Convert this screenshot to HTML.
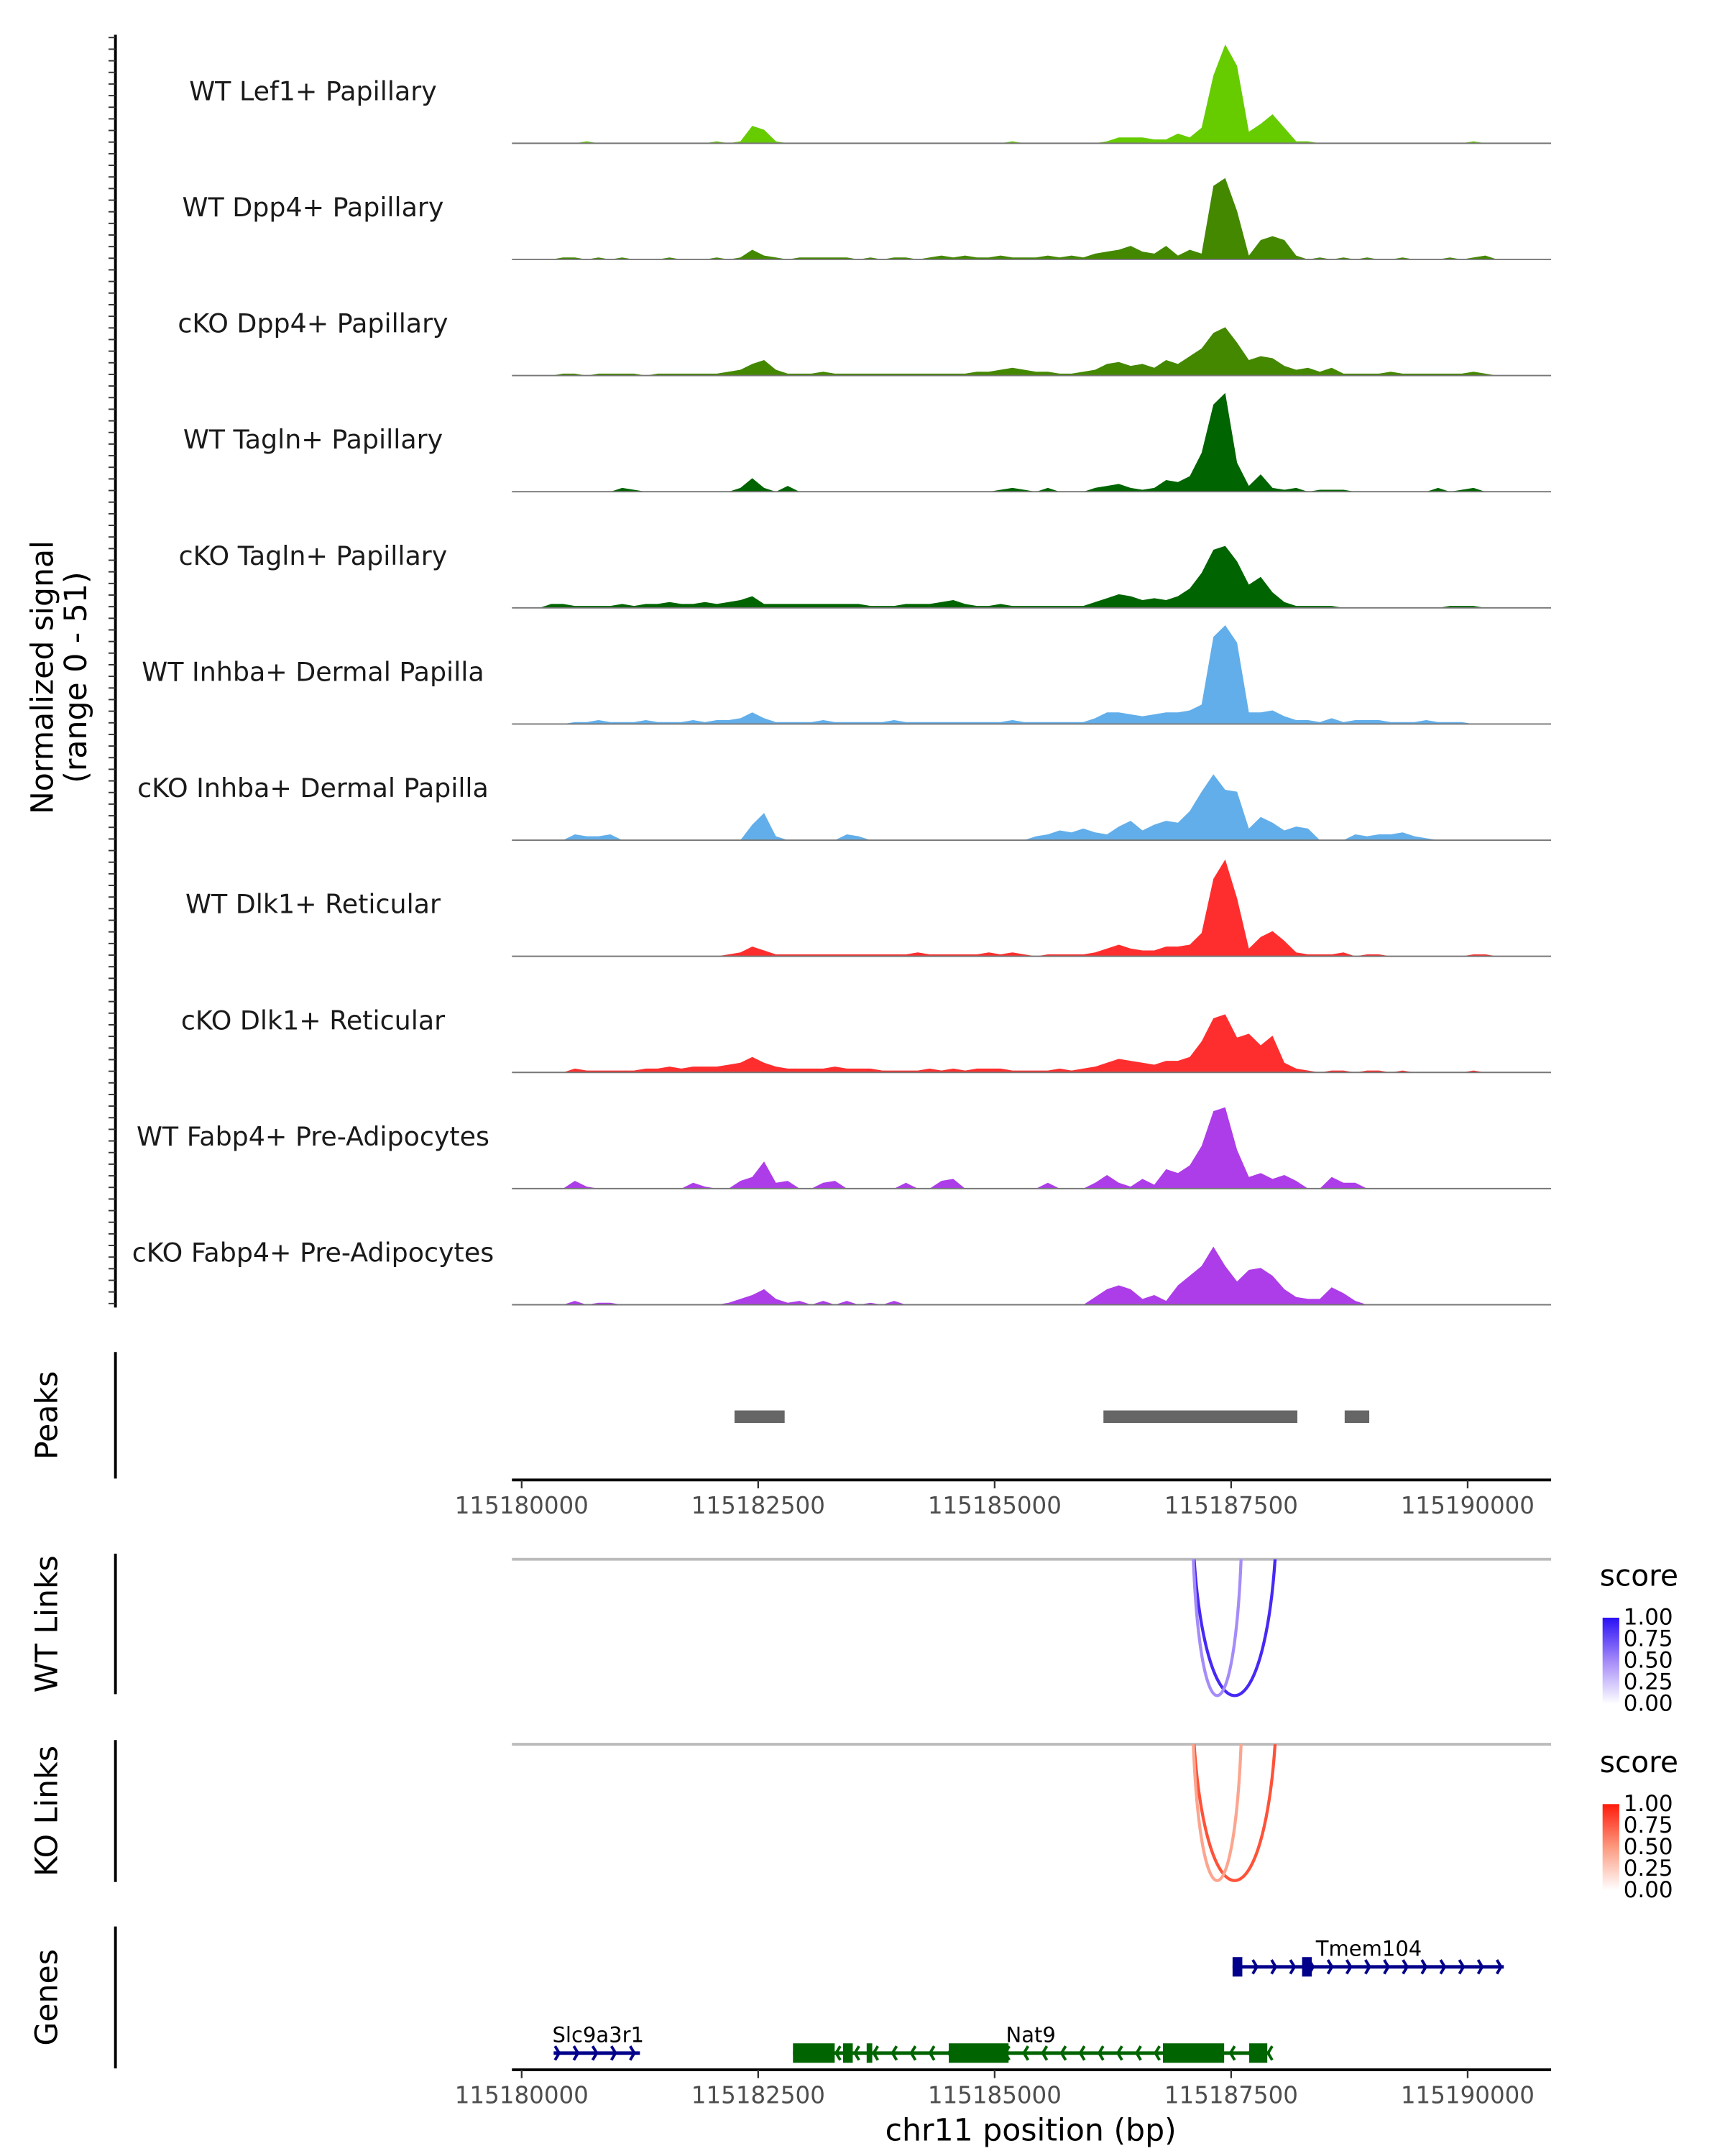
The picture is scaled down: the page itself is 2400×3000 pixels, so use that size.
<!DOCTYPE html>
<html><head><meta charset="utf-8"><style>
html,body{margin:0;padding:0;background:#fff}
svg{display:block}
text{font-family:"DejaVu Sans","Liberation Sans",sans-serif}
</style></head><body>
<svg id="chart" xmlns="http://www.w3.org/2000/svg" width="2400" height="3000" viewBox="0 0 1240 1550">
<defs>
<linearGradient id="gBlue" x1="0" y1="1" x2="0" y2="0"><stop offset="0" stop-color="#ffffff"/><stop offset="0.5" stop-color="#a48af8"/><stop offset="1" stop-color="#2a10f5"/></linearGradient>
<linearGradient id="gRed" x1="0" y1="1" x2="0" y2="0"><stop offset="0" stop-color="#ffffff"/><stop offset="0.5" stop-color="#fc9a80"/><stop offset="1" stop-color="#ff1a0a"/></linearGradient>
<clipPath id="clipWT"><rect x="368" y="1121" width="747" height="110"/></clipPath>
<clipPath id="clipKO"><rect x="368" y="1254" width="747" height="110"/></clipPath>
</defs>
<g id="tracks"></g>
<g id="static"></g>
</svg>
<script>
// ---- data ----
const startBp = 115180000;
const binSize = 125;
const trackNames = ["WT Lef1+ Papillary","WT Dpp4+ Papillary","cKO Dpp4+ Papillary","WT Tagln+ Papillary","cKO Tagln+ Papillary","WT Inhba+ Dermal Papilla","cKO Inhba+ Dermal Papilla","WT Dlk1+ Reticular","cKO Dlk1+ Reticular","WT Fabp4+ Pre-Adipocytes","cKO Fabp4+ Pre-Adipocytes"];
const trackColors = ["#66cc00","#448800","#448800","#006400","#006400","#62aeea","#62aeea","#ff2e2e","#ff2e2e","#ad3de8","#ad3de8"];
const sigLef1WT = [0,0,0,0,0,1,0,0,0,0, 0,0,0,0,0,0,1,0,1,9, 7,1,0,0,0,0,0,0,0,0, 0,0,0,0,0,0,0,0,0,0, 0,1,0,0,0,0,0,0,0,1, 3,3,3,2,2,5,3,8,35,51, 40,6,10,15,8,1,1,0,0,0, 0,0,0,0,0,0,0,0,0,0, 1,0,0,0,0];
const sigDpp4WT = [0,0,0,1,1,0,1,0,1,0, 0,0,1,0,0,0,1,0,1,5, 2,1,0,1,1,1,1,1,0,1, 0,1,1,0,1,2,1,2,1,1, 2,1,1,1,2,1,2,1,3,4, 5,7,4,3,7,2,5,3,38,42, 25,2,10,12,10,2,0,1,0,1, 0,1,0,0,1,0,0,0,1,0, 1,2,0,0,0];
const sigDpp4KO = [0,0,0,1,1,0,1,1,1,1, 0,1,1,1,1,1,1,2,3,6, 8,3,1,1,1,2,1,1,1,1, 1,1,1,1,1,1,1,1,2,2, 3,4,3,2,2,1,1,2,3,6, 7,5,6,4,8,6,10,14,22,25, 17,8,10,9,5,3,4,2,4,1, 1,1,1,2,1,1,1,1,1,1, 2,1,0,0,0];
const sigTaglnWT = [0,0,0,0,0,0,0,0,2,1, 0,0,0,0,0,0,0,0,2,7, 2,0,3,0,0,0,0,0,0,0, 0,0,0,0,0,0,0,0,0,0, 1,2,1,0,2,0,0,0,2,3, 4,2,1,2,6,5,8,20,45,51, 15,3,9,2,1,2,0,1,1,1, 0,0,0,0,0,0,0,2,0,1, 2,0,0,0,0];
const sigTaglnKO = [0,0,2,2,1,1,1,1,2,1, 2,2,3,2,2,3,2,3,4,6, 2,2,2,2,2,2,2,2,2,1, 1,1,2,2,2,3,4,2,1,1, 2,1,1,1,1,1,1,1,3,5, 7,6,4,5,4,6,10,18,30,32, 24,12,16,8,3,1,1,1,1,0, 0,0,0,0,0,0,0,0,1,1, 1,0,0,0,0];
const sigInhbaWT = [0,0,0,0,1,1,2,1,1,1, 2,1,1,1,2,1,2,2,3,6, 3,1,1,1,1,2,1,1,1,1, 1,2,1,1,1,1,1,1,1,1, 1,2,1,1,1,1,1,1,3,6, 6,5,4,5,6,6,7,10,45,51, 42,6,6,7,4,2,2,1,3,1, 2,2,2,1,1,1,2,1,1,1, 0,0,0,0,0];
const sigInhbaKO = [0,0,0,0,3,2,2,3,0,0, 0,0,0,0,0,0,0,0,0,8, 14,2,0,0,0,0,0,3,2,0, 0,0,0,0,0,0,0,0,0,0, 0,0,0,2,3,5,4,6,4,3, 7,10,5,8,10,9,15,25,34,26, 25,6,12,9,5,7,6,0,0,0, 3,2,3,3,4,2,1,0,0,0, 0,0,0,0,0];
const sigDlk1WT = [0,0,0,0,0,0,0,0,0,0, 0,0,0,0,0,0,0,1,2,5, 3,1,1,1,1,1,1,1,1,1, 1,1,1,2,1,1,1,1,1,2, 1,2,1,0,1,1,1,1,2,4, 6,4,3,3,5,5,6,12,40,50, 30,4,10,13,8,2,1,1,1,2, 0,1,1,0,0,0,0,0,0,0, 1,1,0,0,0];
const sigDlk1KO = [0,0,0,0,2,1,1,1,1,1, 2,2,3,2,3,3,3,4,5,8, 5,3,2,2,2,2,3,2,2,2, 1,1,1,1,2,1,2,1,2,2, 2,1,1,1,1,2,1,2,3,5, 7,6,5,4,6,6,8,16,28,30, 18,20,14,19,5,2,1,0,1,1, 0,1,1,0,1,0,0,0,0,0, 1,0,0,0,0];
const sigFabp4WT = [0,0,0,0,4,1,0,0,0,0, 0,0,0,0,3,1,0,0,4,6, 14,3,4,0,0,3,4,0,0,0, 0,0,3,0,0,4,5,0,0,0, 0,0,0,0,3,0,0,0,3,7, 3,1,5,2,10,8,12,22,40,42, 20,6,8,5,7,4,0,0,6,3, 3,0,0,0,0,0,0,0,0,0, 0,0,0,0,0];
const sigFabp4KO = [0,0,0,0,2,0,1,1,0,0, 0,0,0,0,0,0,0,1,3,5, 8,3,1,2,0,2,0,2,0,1, 0,2,0,0,0,0,0,0,0,0, 0,0,0,0,0,0,0,0,4,8, 10,8,3,5,2,10,15,20,30,20, 12,18,19,15,8,4,3,3,9,6, 2,0,0,0,0,0,0,0,0,0, 0,0,0,0,0];
const signals = [sigLef1WT,sigDpp4WT,sigDpp4KO,sigTaglnWT,sigTaglnKO,sigInhbaWT,sigInhbaKO,sigDlk1WT,sigDlk1KO,sigFabp4WT,sigFabp4KO];
const signalMax = 51;
const peakStarts = [115182250, 115186150, 115188700];
const peakEnds   = [115182780, 115188200, 115188960];
const xTicks = [115180000,115182500,115185000,115187500,115190000];
const wtLinkStarts = [115187176, 115187176];
const wtLinkEnds   = [115187897, 115187529];
const wtLinkScores = [0.95, 0.5];
const koLinkStarts = [115187176, 115187176];
const koLinkEnds   = [115187897, 115187529];
const koLinkScores = [0.85, 0.45];
const legendTicks = ["1.00","0.75","0.50","0.25","0.00"];
const geneNames = ["Tmem104","Nat9","Slc9a3r1"];
const geneStarts = [115187515, 115182868, 115180338];
const geneEnds   = [115190382, 115187912, 115181250];
const geneStrand = ["+","-","+"];
const geneExonStarts = [[115187515,115188250],[115182868,115183397,115183647,115184515,115186779,115187691],[]];
const geneExonEnds   = [[115187618,115188353],[115183309,115183500,115183706,115185147,115187426,115187882],[]];
// ---- scales ----
const X0 = 375, PXBP = 0.068;
function xs(bp){ return X0 + (bp - startBp) * PXBP; }
const baselines = []; for (let i=0;i<11;i++) baselines.push(103 + i*83.5);
const trackH = 71;
function ys(v, base){ return base - v / signalMax * trackH; }
const NS = "http://www.w3.org/2000/svg";
function mk(tag, attrs, parent){ const e=document.createElementNS(NS,tag); for(const k in attrs) e.setAttribute(k, attrs[k]); parent.appendChild(e); return e; }
const tracks = document.getElementById('tracks');
const st = document.getElementById('static');

// tracks
signals.forEach((sig, t) => {
  const base = baselines[t];
  let d = `M${xs(startBp)},${base}`;
  sig.forEach((v, i) => {
    const x = xs(startBp + i*binSize + binSize/2);
    d += ` L${x.toFixed(2)},${ys(v, base).toFixed(2)}`;
  });
  d += ` L${xs(startBp + sig.length*binSize)},${base} Z`;
  const p = mk('path', {d:d, fill:trackColors[t]}, tracks);
  
  
  const bl = mk('line', {x1:368, x2:1115, y1:base, y2:base, stroke:'#777', 'stroke-width':1}, tracks);
  
  
  const lb = mk('text', {x:225, y:base-31, 'text-anchor':'middle', 'font-size':18.8, fill:'#1a1a1a'}, tracks);
  lb.textContent = trackNames[t];
  
  
});

// left axis for signal
const ax = mk('line', {x1:83, x2:83, y1:25, y2:940, stroke:'#000', 'stroke-width':2}, st);


for (let y=27; y<=940; y+=8.35) {
  const tk = mk('line', {x1:78, x2:83, y1:y, y2:y, stroke:'#333', 'stroke-width':1}, st);
  
  
}
const yt = mk('text', {transform:'translate(42,487) rotate(-90)', 'text-anchor':'middle', 'font-size':22, fill:'#000'}, st);


const ts1 = mk('tspan', {x:0, dy:-4}, yt); ts1.textContent = 'Normalized signal';
const ts2 = mk('tspan', {x:0, dy:24}, yt); ts2.textContent = '(range 0 - 51)';

// side panel axes and titles
[[972,1063,'Peaks','peaks'],[1117,1218,'WT Links','wt-links'],[1251,1353,'KO Links','ko-links'],[1385,1487,'Genes','genes']].forEach(a => {
  const l = mk('line', {x1:83, x2:83, y1:a[0], y2:a[1], stroke:'#000', 'stroke-width':2}, st);
  
  
  const t = mk('text', {transform:`translate(41,${(a[0]+a[1])/2}) rotate(-90)`, 'text-anchor':'middle', 'font-size':22, fill:'#000'}, st);
  t.textContent = a[2];
  
  
});

// peaks
peakStarts.forEach((s, i) => {
  const r = mk('rect', {x:xs(s), y:1014, width:xs(peakEnds[i])-xs(s), height:9, fill:'#666'}, st);
  
  
});

// x axes
function xAxis(y, name){
  const l = mk('line', {x1:368, x2:1115, y1:y, y2:y, stroke:'#000', 'stroke-width':2}, st);
  
  
  xTicks.forEach(v => {
    const tk = mk('line', {x1:xs(v), x2:xs(v), y1:y, y2:y+6, stroke:'#333', 'stroke-width':1.2}, st);
    
    
    const tl = mk('text', {x:xs(v), y:y+24, 'text-anchor':'middle', 'font-size':16.8, fill:'#4d4d4d'}, st);
    tl.textContent = String(v);
    
    
  });
}
xAxis(1064, 'peaks-x-axis');
xAxis(1488, 'genes-x-axis');
const xt = mk('text', {x:741, y:1539, 'text-anchor':'middle', 'font-size':22, fill:'#000'}, st);
xt.textContent = 'chr11 position (bp)';



// links
function interp(c1, c2, t){ return c1.map((v,i)=>Math.round(v+(c2[i]-v)*t)); }
function links(starts, ends, scores, y0, clipId, hi, mid, name){
  const gl = mk('line', {x1:368, x2:1115, y1:y0, y2:y0, stroke:'#bbb', 'stroke-width':2}, st);
  
  
  const g = mk('g', {'clip-path':`url(#${clipId})`}, st);
  starts.forEach((s, i) => {
    const x1 = xs(s) - 6, x2 = xs(ends[i]) + 6;
    const depth = 97;
    const c = scores[i] > 0.5 ? interp(mid, hi, (scores[i]-0.5)*2) : interp([255,255,255], mid, scores[i]*2);
    const p = mk('path', {d:`M${x1},${y0-30} C${x1+ (x2-x1)*0.08},${y0+depth*1.45} ${x2-(x2-x1)*0.08},${y0+depth*1.45} ${x2},${y0-30}`, fill:'none', stroke:`rgb(${c.join(',')})`, 'stroke-width':2.2}, g);
    
    
  });
}
links(wtLinkStarts, wtLinkEnds, wtLinkScores, 1121, 'clipWT', [60,30,245], [165,140,248], 'wt-links');
links(koLinkStarts, koLinkEnds, koLinkScores, 1254, 'clipKO', [255,50,25], [252,155,130], 'ko-links');

// legends
function legend(y, grad, name){
  const t = mk('text', {x:1150, y:y, 'font-size':21, fill:'#000'}, st);
  t.textContent = 'score';
  
  
  const r = mk('rect', {x:1152, y:y+23, width:12, height:62, fill:`url(#${grad})`}, st);
  
  
  legendTicks.forEach((lab, i) => {
    const tl = mk('text', {x:1167, y:y+28+i*15.5, 'font-size':16, fill:'#000'}, st);
    tl.textContent = lab;
    
    
  });
}
legend(1140, 'gBlue', 'wt-legend');
legend(1274, 'gRed', 'ko-legend');

// genes
const geneY = [1414, 1476, 1476];
const geneColor = ["#00008b","#006400","#00008b"];
const labelX = [984, 741, 430];
geneNames.forEach((gname, gi) => {
  const y = geneY[gi], col = geneColor[gi];
  const g = mk('g', {}, st);
  
  
  mk('line', {x1:xs(geneStarts[gi]), x2:xs(geneEnds[gi]), y1:y, y2:y, stroke:col, 'stroke-width':2.5}, g);
  const x1 = xs(geneStarts[gi]), x2 = xs(geneEnds[gi]);
  for (let x = x1 + 4; x <= x2; x += 13.5) {
    const dir = geneStrand[gi] === '+' ? 1 : -1;
    mk('path', {d:`M${x-3*dir},${y-5} L${x},${y} L${x-3*dir},${y+5}`, fill:'none', stroke:col, 'stroke-width':2}, g);
  }
  geneExonStarts[gi].forEach((s, k) => {
    mk('rect', {x:xs(s), y:y-7, width:xs(geneExonEnds[gi][k])-xs(s), height:14, fill:col}, g);
  });
  const t = mk('text', {x:labelX[gi], y:y-8, 'text-anchor':'middle', 'font-size':15, fill:'#000'}, g);
  t.textContent = gname;
  
  
});
</script>
</body></html>
